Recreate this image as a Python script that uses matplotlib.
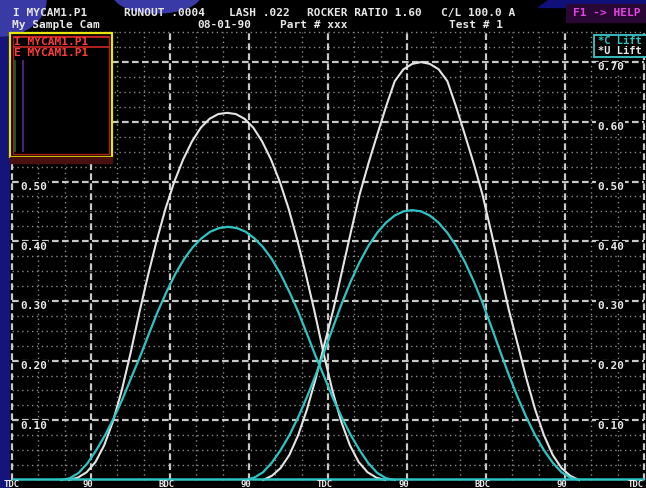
import numpy as np
import matplotlib.pyplot as plt
from matplotlib.patches import Rectangle, Ellipse, Polygon

W, H = 646, 488

# crank angle axis (two revolutions)
tick_deg = [0, 90, 180, 270, 360, 450, 540, 630, 720]
tick_names = ['TDC', '90', 'BDC', '90', 'TDC', '90', 'BDC', '90', 'TDC']
lift_left = [0.10, 0.20, 0.30, 0.40, 0.50]
lift_right = [0.10, 0.20, 0.30, 0.40, 0.50, 0.60, 0.70]
lift_major = [0.10, 0.20, 0.30, 0.40, 0.50, 0.60, 0.70]

# lift curves, sampled every 10 deg
u1_deg = np.arange(65, 426, 10)
u1_lift = [0.000, 0.004, 0.013, 0.030, 0.058, 0.098, 0.150, 0.212, 0.280, 0.343,
           0.402, 0.455, 0.500, 0.537, 0.567, 0.590, 0.605, 0.613, 0.615,
           0.613, 0.605, 0.590, 0.567, 0.537, 0.500, 0.455, 0.402, 0.343, 0.280,
           0.212, 0.150, 0.098, 0.058, 0.030, 0.013, 0.004, 0.000]

u2_deg = np.arange(286, 647, 10)
u2_lift = [0.000, 0.007, 0.020, 0.042, 0.075, 0.118, 0.170, 0.228, 0.285, 0.350,
           0.415, 0.478, 0.530, 0.578, 0.625, 0.668, 0.688, 0.697, 0.700,
           0.697, 0.688, 0.668, 0.625, 0.578, 0.530, 0.478, 0.415, 0.350, 0.285,
           0.228, 0.170, 0.118, 0.075, 0.042, 0.020, 0.007, 0.000]

c1_deg = np.arange(56, 437, 10)
c1_lift = [0.000, 0.003, 0.012, 0.028, 0.050, 0.075, 0.104, 0.136, 0.172, 0.207,
           0.245, 0.282, 0.315, 0.345, 0.370, 0.390, 0.405, 0.416, 0.422, 0.424,
           0.422, 0.416, 0.405, 0.390, 0.370, 0.345, 0.315, 0.282, 0.245, 0.207,
           0.172, 0.136, 0.104, 0.075, 0.050, 0.028, 0.012, 0.003, 0.000]

c2_deg = np.arange(266, 647, 10)
c2_lift = [0.000, 0.004, 0.013, 0.029, 0.050, 0.075, 0.105, 0.139, 0.176, 0.216,
           0.257, 0.297, 0.333, 0.365, 0.392, 0.414, 0.431, 0.443, 0.450, 0.452,
           0.450, 0.443, 0.431, 0.414, 0.392, 0.365, 0.333, 0.297, 0.257, 0.216,
           0.176, 0.139, 0.105, 0.075, 0.050, 0.029, 0.013, 0.004, 0.000]

WHITE = '#e4e4e4'
CYAN = '#2ec4c4'
GRID = '#c8c8c8'
MINOR = '#8a8a8a'
MONO = 'DejaVu Sans Mono'

fig = plt.figure(figsize=(W / 100, H / 100), dpi=100, facecolor='black')

# slide background peeking round the screen grab (pixel coords)
bg = fig.add_axes([0, 0, 1, 1], zorder=0)
bg.set_xlim(0, W)
bg.set_ylim(H, 0)
bg.axis('off')
bg.add_patch(Rectangle((0, 0), 9, H, color='#14147a'))
bg.add_patch(Ellipse((0, 0), 92, 72, color='#3a3aa6'))
bg.add_patch(Ellipse((157, -6), 88, 38, color='#3a3aa6'))
bg.add_patch(Polygon([(548, 0), (646, 0), (646, 7), (538, 7)], color='#10107a'))

# plot in crank degrees / lift inches
ax = fig.add_axes([0, 0, 1, 1], zorder=1)
ax.patch.set_alpha(0)
px_deg = 720 / 632
ax.set_xlim(-12 * px_deg, (W - 12) * px_deg)
ax.set_ylim(-8 / 597, 480 / 597)
ax.axis('off')

top = 0.75
minor_y = [v for v in np.arange(0.025, top + 0.001, 0.025) if round(v * 40) % 4 != 0]
minor_x = [d for d in range(30, 720, 30) if d % 90 != 0]
ax.hlines(minor_y, 0, 720, color=MINOR, lw=1, linestyles=(0, (1, 2.5)))
ax.vlines(minor_x, 0, top, color=MINOR, lw=1, linestyles=(0, (1, 2.5)))
ax.hlines(lift_major, 0, 720, color=GRID, lw=1.6, linestyles=(0, (3, 1.5)))
ax.vlines(tick_deg, 0, top, color=GRID, lw=1.6, linestyles=(0, (3, 1.5)))

ax.plot(u1_deg, u1_lift, color=WHITE, lw=1.5, zorder=3)
ax.plot(u2_deg, u2_lift, color=WHITE, lw=1.5, zorder=3)
ax.plot(c1_deg, c1_lift, color=CYAN, lw=1.6, zorder=4)
ax.plot(c2_deg, c2_lift, color=CYAN, lw=1.6, zorder=4)
ax.hlines(0.002, 0, 720, color=CYAN, lw=1.8, zorder=4)

lab = dict(family=MONO, weight='bold', fontsize=8, color='#e8e8e8', va='center',
           bbox=dict(facecolor='black', edgecolor='none', pad=0.6), zorder=5)
for v in lift_left:
    ax.text(8 * px_deg, v - 0.009, f'{v:.2f}', ha='left', **lab)
for v in lift_right:
    ax.text(585 * px_deg, v - 0.009, f'{v:.2f}', ha='left', **lab)

# crank labels squeezed under the base line
bot = dict(family=MONO, weight='bold', fontsize=6.5, color='#e8e8e8', va='baseline', zorder=5)
base_y = -7.0 / 597
for d, name in zip(tick_deg, tick_names):
    if d == 0:
        ax.text(-8 * px_deg, base_y, name, ha='left', **bot)
    elif d == 720:
        ax.text(720, base_y, name, ha='right', **bot)
    else:
        ax.text(d - 4, base_y, name, ha='center', **bot)

# header and legend boxes (pixel coords)
fg = fig.add_axes([0, 0, 1, 1], zorder=2)
fg.set_xlim(0, W)
fg.set_ylim(H, 0)
fg.axis('off')

hdr = dict(family=MONO, weight='bold', fontsize=8, color='#e8e8e8', va='center', ha='left')
fg.text(13, 13, 'I MYCAM1.P1', **hdr)
fg.text(124, 13, 'RUNOUT .0004', **hdr)
fg.text(229, 13, 'LASH .022', **hdr)
fg.text(307, 13, 'ROCKER RATIO 1.60', **hdr)
fg.text(441, 13, 'C/L 100.0 A', **hdr)
fg.add_patch(Rectangle((566, 4), 80, 18, color='#2a0836'))
fg.text(573, 13, 'F1 -> HELP', **{**hdr, 'color': '#e444e4'})
fg.text(12, 25, 'My Sample Cam', **hdr)
fg.text(197, 25, '08-01-90', **hdr)
fg.text(280, 25, 'Part # xxx', **hdr)
fg.text(449, 25, 'Test # 1', **hdr)

# file legend, top left
fg.add_patch(Rectangle((10, 33), 102, 124, facecolor='black', edgecolor='#e6e60a', lw=1.6))
fg.add_patch(Rectangle((13, 36), 96, 118, facecolor='none', edgecolor='#b01c1c', lw=1))
fg.add_patch(Rectangle((10, 157), 102, 6, color='#4a1010'))
fg.hlines([37, 47], 13, 109, color='#d02828', lw=1.2)
fg.vlines(15, 60, 152, color='#1e6e1e', lw=1.2)
fg.vlines(23, 60, 152, color='#5a2a8a', lw=1.2)
fg.text(14, 42, 'I MYCAM1.P1', **{**hdr, 'color': '#ff3c3c'})
fg.text(14, 53, 'E MYCAM1.P1', **{**hdr, 'color': '#ff3c3c'})

# curve legend, top right
fg.add_patch(Rectangle((594, 35), 60, 22, facecolor='black', edgecolor='#3cc8c8', lw=1.3))
fg.text(598, 41, '*C Lift', **{**hdr, 'color': CYAN, 'fontsize': 7.5})
fg.text(598, 51, '*U Lift', **{**hdr, 'fontsize': 7.5})

fig.savefig('out.png', dpi=100, facecolor='black')
